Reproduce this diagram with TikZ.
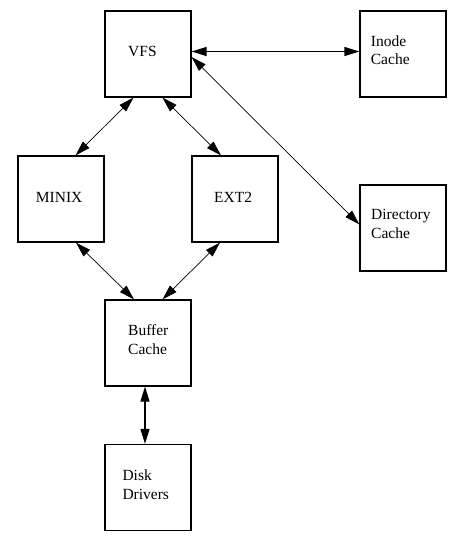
\documentclass[tikz,border=0pt]{standalone}
\usepackage{fontspec}
\setmainfont{Liberation Serif}
\usetikzlibrary{arrows.meta}
\begin{document}
\begin{tikzpicture}[x=1pt,y=-1pt,
		blk/.style={draw,line width=1.2,minimum size=86,inner sep=0},
		lbl/.style={anchor=base west,inner sep=0,align=left,font=\fontsize{15.5}{18.7}\selectfont},
		link/.style={line width=0.7,{Triangle[length=15,width=9]}-{Triangle[length=15,width=9]}},
		thick link/.style={link,line width=1.2}]
		\useasboundingbox (0,0) rectangle (465,540);
		\node[blk] (vfs) at (148,54) {};
		\node[blk] (inode) at (403,54) {};
		\node[blk] (minix) at (61,199) {};
		\node[blk] (ext2) at (235,199) {};
		\node[blk] (dir) at (403,228) {};
		\node[blk] (buf) at (148,343) {};
		\node[blk] (disk) at (148,487.5) {};
		% text, base of the last line
		\node[lbl] at (128,56.7) {VFS};
		\node[lbl] at (370.7,65) {Inode\\Cache};
		\node[lbl] at (35.7,202.5) {MINIX};
		\node[lbl] at (214,202.5) {EXT2};
		\node[lbl] at (371,238.5) {Directory\\Cache};
		\node[lbl] at (128,354) {Buffer\\Cache};
		\node[lbl] at (122.3,499.5) {Disk\\Drivers};
		\draw[thick link] ([yshift=2.5]vfs.east) to ([yshift=2.5]inode.west);
		\draw[link] ([yshift=-3]vfs.east) to ([yshift=3.5]dir.west);
		\draw[link] ([xshift=-14.5]vfs.south) to ([xshift=14.5]minix.north);
		\draw[link] ([xshift=14.5]vfs.south) to ([xshift=-14]ext2.north);
		\draw[link] ([xshift=15]minix.south) to ([xshift=-14]buf.north);
		\draw[link] ([xshift=-15]ext2.south) to ([xshift=14.5]buf.north);
		\draw[thick link] ([xshift=-3]buf.south) to ([xshift=-3]disk.north);
	\end{tikzpicture}
\end{document}
